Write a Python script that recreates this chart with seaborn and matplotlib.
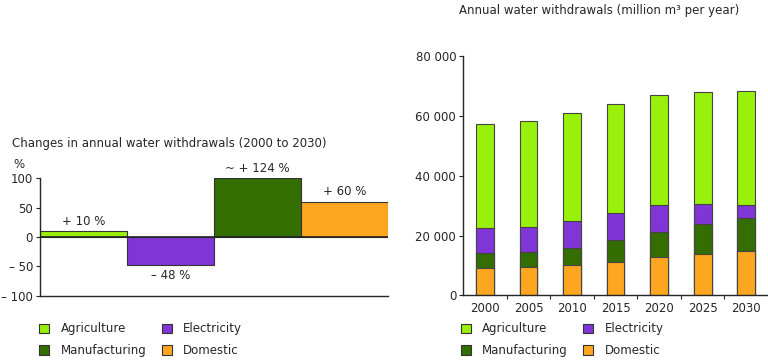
import numpy as np
import pandas as pd
import matplotlib
matplotlib.use("Agg")
import matplotlib.pyplot as plt
from matplotlib.patches import Patch
from matplotlib.ticker import FuncFormatter, FixedLocator
import seaborn as sns

# data
sectors = ["Agriculture", "Electricity", "Manufacturing", "Domestic"]
change_pct = [10, -48, 100, 60]  # manufacturing bar is capped at 100
change_labels = ["+ 10 %", "\u2013 48 %", "~ + 124 %", "+ 60 %"]

years = ["2000", "2005", "2010", "2015", "2020", "2025", "2030"]
domestic = [9300, 9500, 10200, 11300, 13000, 14000, 14700]
manufacturing = [4800, 5000, 5800, 7200, 8100, 9900, 11100]
electricity = [8400, 8500, 9000, 9200, 9200, 6500, 4500]
agriculture = [34800, 35400, 35800, 36300, 36800, 37600, 37900]

colors = {
    "Agriculture": "#99f00a",
    "Electricity": "#8036d6",
    "Manufacturing": "#346e00",
    "Domestic": "#ffa620",
}

sns.set_style("white")
plt.rcParams["font.family"] = ["DejaVu Sans"]
plt.rcParams["font.size"] = 8.5
plt.rcParams["axes.linewidth"] = 1.0

fig = plt.figure(figsize=(7.68, 3.63), dpi=100)

# ---- left: percent change
axl = fig.add_axes([0.052, 0.185, 0.453, 0.324])
chg = pd.DataFrame({"sector": sectors, "pct": change_pct})
sns.barplot(data=chg, x="sector", y="pct", hue="sector", palette=colors, saturation=1,
            width=1.0, edgecolor="#333333", linewidth=0.8, legend=False, ax=axl)
axl.axhline(0, color="#222222", lw=1.2, zorder=5)
axl.set_ylim(-100, 100)
axl.set_xlim(-0.5, 3.5)
axl.set_yticks([-100, -50, 0, 50, 100])
axl.set_yticklabels(["\u2013 100", "\u2013 50", "0", "50", "100"])
axl.set_xticks([])
axl.set_xlabel("")
axl.set_ylabel("")
for s in ["top", "right"]:
    axl.spines[s].set_visible(False)
axl.tick_params(axis="y", length=3, width=0.8, left=True, pad=2, labelsize=8.5)
for i, (v, lab) in enumerate(zip(change_pct, change_labels)):
    if v >= 0:
        axl.text(i, v + 6, lab, ha="center", va="bottom", fontsize=8.5)
    else:
        axl.text(i, v - 6, lab, ha="center", va="top", fontsize=8.5)
fig.text(0.016, 0.606, "Changes in annual water withdrawals (2000 to 2030)", fontsize=8.5, va="center")
fig.text(0.018, 0.548, "%", fontsize=8.5, va="center")

# ---- right: stacked annual withdrawals
axr = fig.add_axes([0.603, 0.186, 0.397, 0.66])
wd = pd.DataFrame({"year": years, "Domestic": domestic, "Manufacturing": manufacturing,
                   "Electricity": electricity, "Agriculture": agriculture})
stack_order = ["Domestic", "Manufacturing", "Electricity", "Agriculture"]
cum = wd[stack_order].cumsum(axis=1)
for name in reversed(stack_order):
    sns.barplot(x=wd["year"], y=cum[name], color=colors[name], width=0.41,
                edgecolor="#444444", linewidth=0.8, saturation=1, ax=axr)
axr.set_ylim(0, 80000)
axr.set_xlim(-0.5, 6.5)
axr.yaxis.set_major_formatter(FuncFormatter(lambda v, p: f"{int(v):,}".replace(",", " ")))
axr.set_yticks([0, 20000, 40000, 60000, 80000])
axr.xaxis.set_minor_locator(FixedLocator(np.arange(0.5, 6, 1)))
axr.tick_params(axis="x", which="major", length=0, pad=5, labelsize=8.5)
axr.tick_params(axis="x", which="minor", length=3, width=0.8, bottom=True)
axr.tick_params(axis="y", length=3, width=0.8, left=True, pad=2, labelsize=8.5)
axr.set_xlabel("")
axr.set_ylabel("")
for s in ["top", "right"]:
    axr.spines[s].set_visible(False)
fig.text(0.598, 0.972, "Annual water withdrawals (million m\u00b3 per year)", fontsize=8.5, va="center")

# ---- legends
handles = [Patch(facecolor=colors[n], edgecolor="#333333", linewidth=0.8, label=n)
           for n in ["Agriculture", "Manufacturing", "Electricity", "Domestic"]]
for x0 in (0.051, 0.6):
    fig.legend(handles=handles, ncol=2, frameon=False, loc="upper left",
               bbox_to_anchor=(x0, 0.112), fontsize=8.5, handlelength=0.85,
               handleheight=0.85, handletextpad=0.95, columnspacing=1.3,
               labelspacing=0.75, borderaxespad=0, borderpad=0)

fig.savefig("out.png", dpi=100)
